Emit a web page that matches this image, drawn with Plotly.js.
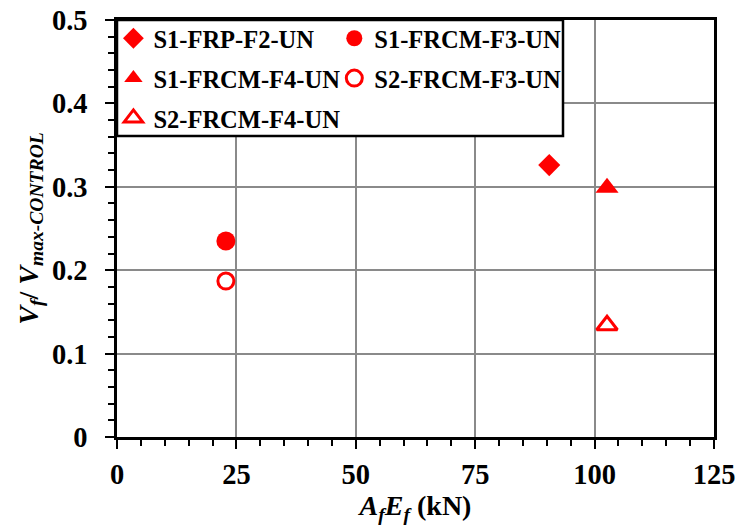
<!DOCTYPE html>
<html>
<head>
<meta charset="utf-8">
<script src="https://cdn.plot.ly/plotly-3.0.1.min.js"></script>
<style>html,body{margin:0;padding:0;background:#fff;}#chart{width:738px;height:525px;}</style>
</head>
<body>
<div id="chart"></div>
<script>
// Data
var seriesNames = ['S1-FRP-F2-UN', 'S1-FRCM-F3-UN', 'S1-FRCM-F4-UN', 'S2-FRCM-F3-UN', 'S2-FRCM-F4-UN'];
var afEf = [[90.5], [22.8], [102.6], [22.8], [102.6]];
var vfRatio = [[0.326], [0.235], [0.299], [0.187], [0.134]];
var xTicks = [0, 25, 50, 75, 100, 125];
var yTicks = [0, 0.1, 0.2, 0.3, 0.4, 0.5];

var symbols = ['diamond', 'circle', 'triangle-up', 'circle-open', 'triangle-up-open'];
var sizes = [17, 19, 20, 16, 18];
var legendsOf = ['legend', 'legend2', 'legend', 'legend2', 'legend'];
var red = '#ff0000';

var traces = seriesNames.map(function (name, i) {
  return {
    type: 'scatter', mode: 'markers', name: name,
    x: afEf[i], y: vfRatio[i],
    legend: legendsOf[i], legendgroup: 'g' + i,
    marker: {symbol: symbols[i], size: sizes[i], color: red,
             line: {color: red, width: symbols[i].indexOf('open') >= 0 ? 3 : 0}},
    hoverinfo: 'x+y+name'
  };
});

var serif = 'Liberation Serif, Times New Roman, serif';
var legendFont = {family: serif, size: 24.5, color: '#000', weight: 'bold'};

var axisCommon = {
  showline: true, linecolor: '#000', linewidth: 2.5, mirror: true,
  showgrid: true, gridcolor: '#8a8a8a', gridwidth: 2,
  zeroline: false,
  ticks: 'outside', ticklen: 9, tickwidth: 2, tickcolor: '#000',
  tickfont: {family: serif, size: 28.5, color: '#000', weight: 'bold'}
};

var layout = {
  width: 738, height: 525,
  margin: {l: 117, r: 24, t: 20, b: 88},
  paper_bgcolor: '#fff', plot_bgcolor: '#fff',
  showlegend: true,
  xaxis: Object.assign({}, axisCommon, {
    range: [0, 125], tickvals: xTicks, ticktext: xTicks.map(String),
    ticklabelstandoff: 1,
    minor: {dtick: 5, tick0: 0, ticks: 'outside', ticklen: 6, tickwidth: 2, tickcolor: '#000', showgrid: false},
    title: {text: '<i>A<sub>f</sub>E<sub>f</sub></i> (kN)', standoff: 2,
            font: {family: serif, size: 28, color: '#000', weight: 'bold'}}
  }),
  yaxis: Object.assign({}, axisCommon, {
    range: [0, 0.5], tickvals: yTicks, ticktext: yTicks.map(function (v) { return v === 0 ? '0' : v.toFixed(1); }),
    ticklabelstandoff: 12,
    minor: {dtick: 0.02, tick0: 0, ticks: 'outside', ticklen: 6, tickwidth: 2, tickcolor: '#000', showgrid: false},
    title: {text: '<i>V<sub>f</sub></i>/ <i>V<sub>max-CONTROL</sub></i>', standoff: 6,
            font: {family: serif, size: 28, color: '#000', weight: 'bold'}}
  }),
  legend: {x: -0.006, xanchor: 'left', y: 1.01, yanchor: 'top', bgcolor: 'rgba(0,0,0,0)',
           borderwidth: 0, font: legendFont, tracegroupgap: 5, traceorder: 'grouped'},
  legend2: {x: 0.364, xanchor: 'left', y: 1.01, yanchor: 'top', bgcolor: 'rgba(0,0,0,0)',
            borderwidth: 0, font: legendFont, tracegroupgap: 5, traceorder: 'grouped'},
  shapes: [{type: 'rect', xref: 'paper', yref: 'paper', layer: 'above',
            x0: 0, x1: (563 - 117) / 597, y0: 1 - (136 - 20) / 417, y1: 1,
            fillcolor: '#fff', line: {color: '#000', width: 2.5}}]
};

Plotly.newPlot('chart', traces, layout, {displayModeBar: false, responsive: false});
</script>
</body>
</html>
